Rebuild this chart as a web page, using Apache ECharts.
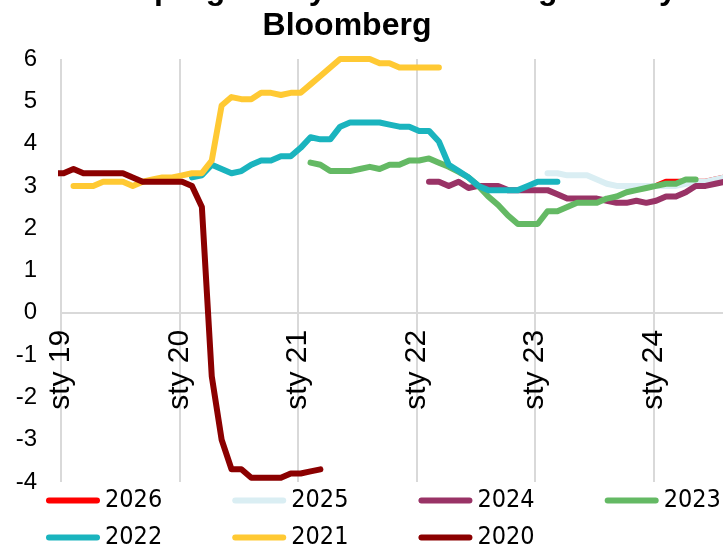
<!DOCTYPE html>
<html>
<head>
<meta charset="utf-8">
<script src="https://cdn.jsdelivr.net/npm/echarts@6/dist/echarts.min.js"></script>
<style>
  html, body { margin: 0; padding: 0; background: #ffffff; }
  #chart { width: 723px; height: 549px; }
</style>
</head>
<body>
<div id="chart"></div>
<script>
// Title (two lines)
const titleLines = ['Mediana prognoz dynamiki PKB wg ankiety', 'Bloomberg'];

// x axis: January tick labels, one per year from Jan 2019
const xTickLabels = ['sty 19', 'sty 20', 'sty 21', 'sty 22', 'sty 23', 'sty 24', 'sty 25', 'sty 26'];

// Forecast year of each series (legend order) and its colour
const forecastYears = ['2026', '2025', '2024', '2023', '2022', '2021', '2020'];
const seriesColors = ['#ff0000', '#daeef3', '#993366', '#64b964', '#1ab4be', '#ffc933', '#8b0000'];

// Monthly survey medians (% y/y), first survey month given for each series
const start2026 = '2024-01';
const values2026 = [3.0, 3.1, 3.1, 3.1, 3.1, 3.1, 3.15, 3.2];

const start2025 = '2023-02';
const values2025 = [3.3, 3.3, 3.25, 3.25, 3.25, 3.15, 3.05, 3.0, 3.0, 3.0, 3.0, 3.0, 3.0, 3.0, 3.05, 3.1, 3.1, 3.15, 3.2];

const start2024 = '2022-02';
const values2024 = [3.1, 3.1, 3.0, 3.1, 2.95, 3.0, 3.0, 3.0, 2.9, 2.9, 2.9, 2.9, 2.9, 2.8, 2.7, 2.7,
                    2.7, 2.7, 2.65, 2.6, 2.6, 2.65, 2.6, 2.65, 2.75, 2.75, 2.85, 3.0, 3.0, 3.05, 3.1, 3.15];

const start2023 = '2021-02';
const values2023 = [3.55, 3.5, 3.35, 3.35, 3.35, 3.4, 3.45, 3.4, 3.5, 3.5, 3.6, 3.6, 3.65, 3.55, 3.45, 3.33,
                    3.2, 3.0, 2.75, 2.55, 2.3, 2.1, 2.1, 2.1, 2.4, 2.4, 2.5, 2.6, 2.6, 2.6, 2.7, 2.75,
                    2.85, 2.9, 2.95, 3.0, 3.05, 3.05, 3.15, 3.15];

const start2022 = '2020-02';
const values2022 = [3.2, 3.25, 3.5, 3.4, 3.3, 3.35, 3.5, 3.6, 3.6, 3.7, 3.7, 3.9, 4.15, 4.1, 4.1, 4.4,
                    4.5, 4.5, 4.5, 4.5, 4.45, 4.4, 4.4, 4.3, 4.3, 4.05, 3.5, 3.35, 3.2, 3.0, 2.9, 2.9,
                    2.9, 2.9, 3.0, 3.1, 3.1, 3.1];

const start2021 = '2019-02';
const values2021 = [3.0, 3.0, 3.0, 3.1, 3.1, 3.1, 3.0, 3.1, 3.15, 3.2, 3.2, 3.25, 3.3, 3.3, 3.6, 4.9,
                    5.1, 5.05, 5.05, 5.2, 5.2, 5.15, 5.2, 5.2, 5.4, 5.6, 5.8, 6.0, 6.0, 6.0, 6.0, 5.9,
                    5.9, 5.8, 5.8, 5.8, 5.8, 5.8];

const start2020 = '2018-12';
const values2020 = [3.3, 3.3, 3.4, 3.3, 3.3, 3.3, 3.3, 3.3, 3.2, 3.1, 3.1, 3.1, 3.1, 3.1, 3.0, 2.5,
                    -1.5, -3.0, -3.7, -3.7, -3.9, -3.9, -3.9, -3.9, -3.8, -3.8, -3.75, -3.7];

const seriesStarts = [start2026, start2025, start2024, start2023, start2022, start2021, start2020];
const seriesValues = [values2026, values2025, values2024, values2023, values2022, values2021, values2020];

// Surveys are run around the 9th of each month
const SURVEY_DAY = 9;
const BASE_YEAR = 2019;

// Month position on the x axis (0 = January 2019), including the survey day
function monthPos(startYm, i) {
  const [y, m] = startYm.split('-').map(Number);
  return (y - BASE_YEAR) * 12 + (m - 1) + i + (SURVEY_DAY - 1) / 30;
}

// Pick the first installed font of a list (falls back to the last entry)
function pickFont(candidates) {
  const ctx = document.createElement('canvas').getContext('2d');
  const probe = 'sty 2026 Bloomberg';
  for (const f of candidates) {
    ctx.font = '40px "' + f + '", monospace';
    const a = ctx.measureText(probe).width;
    ctx.font = '40px "' + f + '", serif';
    const b = ctx.measureText(probe).width;
    if (Math.abs(a - b) < 0.01) return f;
  }
  return candidates[candidates.length - 1];
}

const FONT = '"Liberation Sans", Arial, Helvetica, sans-serif';
const narrowName = pickFont(['Liberation Sans Narrow', 'Arial Narrow', 'DejaVu Sans Condensed', 'Liberation Sans']);
const LEGEND_FONT = '"' + narrowName + '", ' + FONT;
const LEGEND_SIZE = { 'Liberation Sans Narrow': 31, 'Arial Narrow': 31, 'DejaVu Sans Condensed': 25, 'Liberation Sans': 26 }[narrowName];

const capsule = 'path://M3,0L51,0A3,3,0,0,1,51,6L3,6A3,3,0,0,1,3,0Z';

const Y_MIN = -4, Y_MAX = 6;
const GRID_TOP = 59, GRID_HEIGHT = 423;

const series = forecastYears.map((yr, k) => ({
  name: yr,
  type: 'line',
  data: seriesValues[k].map((v, i) => [monthPos(seriesStarts[k], i), v]),
  showSymbol: false,
  symbol: 'none',
  clip: true,
  color: seriesColors[k],
  lineStyle: { width: 6, color: seriesColors[k], cap: 'round', join: 'round' },
  emphasis: { disabled: true },
  animation: false
}));

const legendCommon = {
  orient: 'horizontal',
  left: 46,
  width: 820,
  padding: 0,
  itemWidth: 54,
  itemHeight: 6,
  itemGap: 70,
  icon: capsule,
  itemStyle: { borderWidth: 0 },
  textStyle: { fontFamily: LEGEND_FONT, fontSize: LEGEND_SIZE, color: '#000000' },
  selectedMode: false
};

const chart = echarts.init(document.getElementById('chart'), null, { renderer: 'canvas' });
chart.setOption({
  backgroundColor: '#ffffff',
  animation: false,
  title: {
    text: titleLines.join('\n'),
    left: 342,
    textAlign: 'center',
    top: -33,
    textStyle: { fontFamily: FONT, fontSize: 32, fontWeight: 'bold', color: '#000000', lineHeight: 36 }
  },
  legend: [
    Object.assign({}, legendCommon, { top: 488, data: forecastYears.slice(0, 4) }),
    Object.assign({}, legendCommon, { top: 525, data: forecastYears.slice(4) })
  ],
  grid: {
    left: 61,
    top: GRID_TOP,
    width: 829.5,
    height: GRID_HEIGHT,
    containLabel: false,
    outerBoundsMode: 'none'
  },
  xAxis: {
    type: 'value',
    min: 0,
    max: 84,
    interval: 12,
    // the date axis sits on the zero line, with its labels under it
    offset: -GRID_HEIGHT * (0 - Y_MIN) / (Y_MAX - Y_MIN),
    axisLine: { show: true, onZero: false, lineStyle: { color: '#d9d9d9', width: 2 } },
    axisTick: { show: false },
    splitLine: { show: true, lineStyle: { color: '#d9d9d9', width: 2 } },
    axisLabel: {
      rotate: 90,
      margin: 17,
      fontFamily: FONT,
      fontSize: 30,
      color: '#000000',
      formatter: v => xTickLabels[Math.round(v / 12)]
    }
  },
  yAxis: {
    type: 'value',
    min: Y_MIN,
    max: Y_MAX,
    interval: 1,
    axisLine: { show: false },
    axisTick: { show: false },
    splitLine: { show: false },
    axisLabel: { margin: 24, fontFamily: FONT, fontSize: 24, color: '#000000' }
  },
  series: series
});
</script>
</body>
</html>
